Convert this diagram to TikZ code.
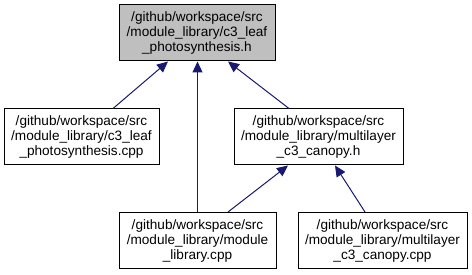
\documentclass[tikz,border=0pt]{standalone}
\usepackage{fontspec}
\setmainfont{Liberation Sans}
\usepackage{xcolor}
\usetikzlibrary{arrows.meta,positioning,calc}

\definecolor{edgeblue}{HTML}{191970}
\definecolor{boxgray}{HTML}{BFBFBF}

\begin{document}
\begin{tikzpicture}[
  x=1pt, y=-1pt,
  file/.style={draw=black, line width=1pt, fill=white,
               minimum height=56pt, inner sep=2pt, align=center,
               font=\fontsize{13.6}{15}\selectfont},
  current/.style={file, fill=boxgray},
  dep/.style={draw=edgeblue, line width=1pt,
              -{Triangle[length=11pt,width=10pt]}},
]
\useasboundingbox (0,0) rectangle (472,275);

% Files
\node[current, minimum width=156pt] (leafh)   at (197,33)
  {/github/workspace/src\\/module\_library/c3\_leaf\\\_photosynthesis.h};
\node[file, minimum width=155pt]    (leafcpp) at (81.5,137)
  {/github/workspace/src\\/module\_library/c3\_leaf\\\_photosynthesis.cpp};
\node[file, minimum width=169pt]    (canopyh) at (318.5,137)
  {/github/workspace/src\\/module\_library/multilayer\\\_c3\_canopy.h};
\node[file, minimum width=157pt]    (modlib)  at (197.5,240.5)
  {/github/workspace/src\\/module\_library/module\\\_library.cpp};
\node[file, minimum width=169pt]    (canopycpp) at (382.5,240.5)
  {/github/workspace/src\\/module\_library/multilayer\\\_c3\_canopy.cpp};

% Arrows
\draw[dep] ([xshift=31.5pt]leafcpp.north) -- ([xshift=-29pt]leafh.south);
\draw[dep] (modlib.north) -- (modlib.north |- leafh.south);
\draw[dep] ([xshift=-29.5pt]canopyh.north) -- ([xshift=31pt]leafh.south);
\draw[dep] ([xshift=30.5pt]modlib.north) -- ([xshift=-30.5pt]canopyh.south);
\draw[dep] ([xshift=-17.5pt]canopycpp.north) -- ([xshift=16.5pt]canopyh.south);

\end{tikzpicture}
\end{document}
